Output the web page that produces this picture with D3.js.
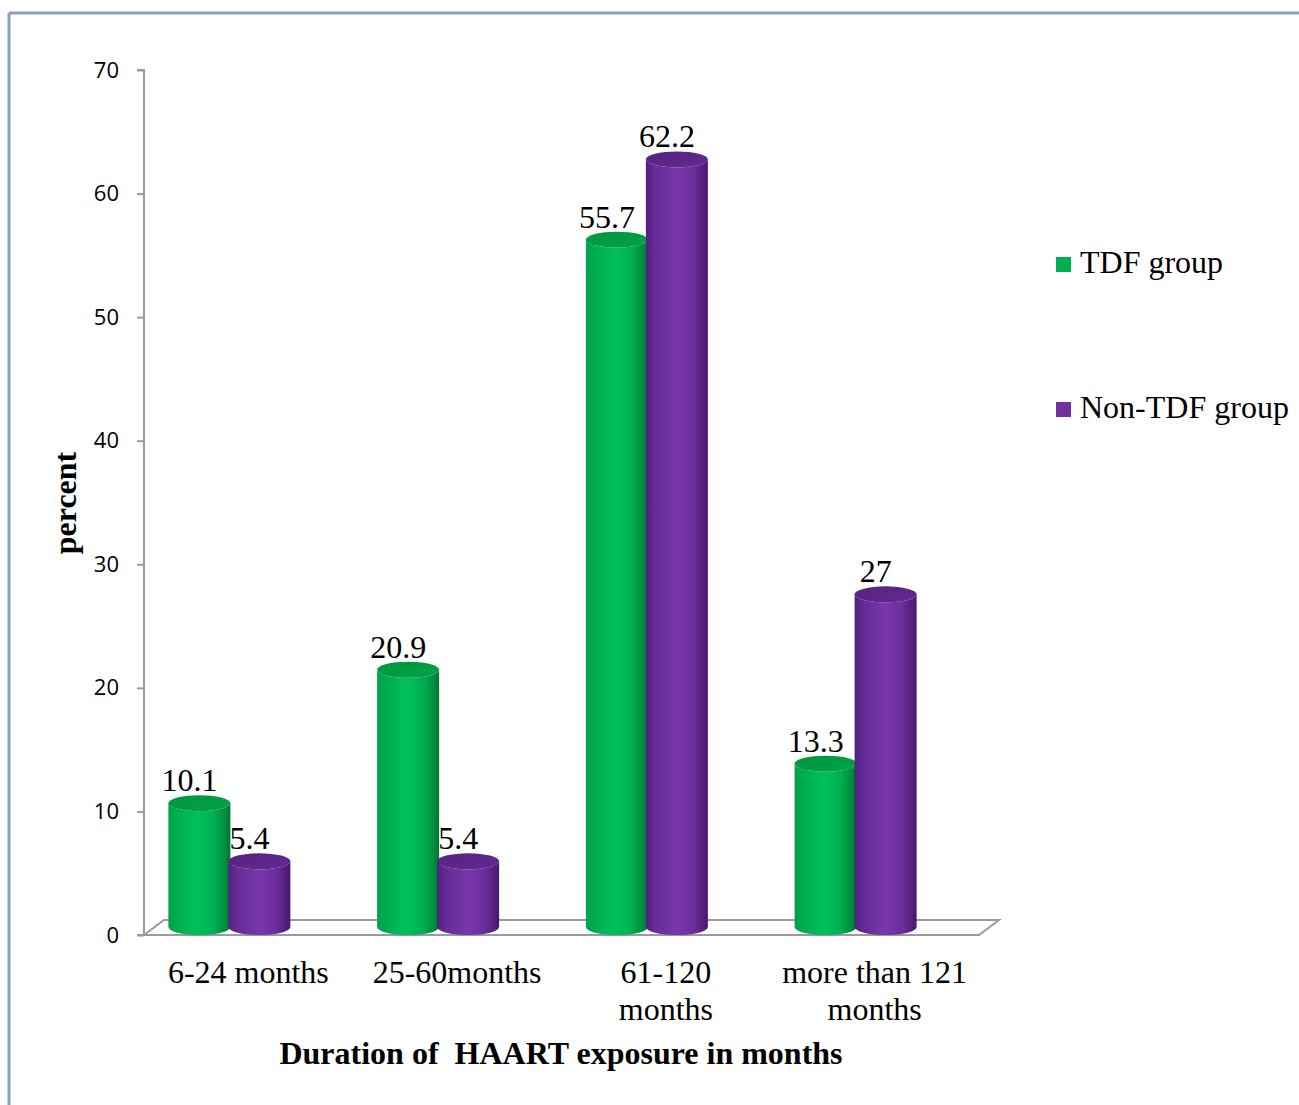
<!DOCTYPE html>
<html>
<head>
<meta charset="utf-8">
<script src="https://cdn.jsdelivr.net/npm/d3@7"></script>
<style>
  html, body { margin: 0; padding: 0; background: #ffffff; }
  svg { display: block; }
</style>
</head>
<body>
<svg id="chart" width="1299" height="1105"></svg>
<script>
// Duration of HAART exposure, percent of patients per group
const categories = [["6-24 months"], ["25-60months"], ["61-120", "months"], ["more than 121", "months"]];
const categoryKeys = ["6-24", "25-60", "61-120", "121+"];
const seriesNames = ["TDF group", "Non-TDF group"];
const tdfValues = [10.1, 20.9, 55.7, 13.3];
const nonTdfValues = [5.4, 5.4, 62.2, 27];
const yTicks = [0, 10, 20, 30, 40, 50, 60, 70];

const svg = d3.select("#chart");
const serif = "'Liberation Serif', 'Times New Roman', serif";
const sans = "'Open Sans', 'Liberation Sans', sans-serif";
const serifSize = 32;

// frame
svg.append("line").attr("x1", 9).attr("y1", 13).attr("x2", 1299).attr("y2", 13)
  .attr("stroke", "#8e9fb6").attr("stroke-width", 3);
svg.append("line").attr("x1", 9).attr("y1", 13).attr("x2", 9).attr("y2", 1105)
  .attr("stroke", "#8e9fb6").attr("stroke-width", 3);

const y = d3.scaleLinear().domain([0, 70]).range([935, 70]);
const x = d3.scaleBand().domain(categoryKeys).range([144, 979]).padding(0);
const xs = d3.scaleBand().domain(seriesNames).range([-79, 41]).padding(0);

const depth = { dx: 20, dy: -15 };
const gridColor = "#9a9a9a";

// floor parallelogram
const x0 = x.range()[0], x1 = x.range()[1], yb = y(0);
svg.append("path")
  .attr("d", `M${x0},${yb} L${x1},${yb} L${x1 + depth.dx},${yb + depth.dy} L${x0 + depth.dx},${yb + depth.dy} Z`)
  .attr("fill", "none").attr("stroke", gridColor).attr("stroke-width", 2);

// value axis
const yAxis = d3.axisLeft(y).tickValues(yTicks).tickSize(7).tickPadding(18);
const gy = svg.append("g").attr("transform", `translate(${x0},0)`).call(yAxis);
gy.select(".domain").attr("stroke", gridColor).attr("stroke-width", 2)
  .attr("d", `M-7,${y(70)}H0V${y(0)}H-7`);
gy.selectAll(".tick line").attr("stroke", gridColor).attr("stroke-width", 2);
gy.selectAll(".tick text").attr("font-family", sans).attr("font-size", 22).attr("fill", "#000");

// gradients for cylinder shading
const defs = svg.append("defs");
const palettes = {
  "TDF group": {
    side: [["0%", "#00a149"], ["12%", "#00ab4e"], ["45%", "#00c05a"], ["72%", "#00b251"], ["92%", "#008c3f"], ["100%", "#007433"]],
    top: [["0%", "#00963f"], ["50%", "#009b43"], ["100%", "#00a54a"]]
  },
  "Non-TDF group": {
    side: [["0%", "#4e1f7e"], ["14%", "#652b95"], ["50%", "#7a36aa"], ["76%", "#6c2e9c"], ["93%", "#521f7c"], ["100%", "#451a6a"]],
    top: [["0%", "#56237f"], ["50%", "#5c2687"], ["100%", "#632a91"]]
  }
};
seriesNames.forEach((s, i) => {
  const gs = defs.append("linearGradient").attr("id", `side${i}`)
    .attr("x1", "0%").attr("x2", "100%").attr("y1", "0%").attr("y2", "0%");
  palettes[s].side.forEach(([o, c]) => gs.append("stop").attr("offset", o).attr("stop-color", c));
  const gt = defs.append("linearGradient").attr("id", `top${i}`)
    .attr("x1", "0%").attr("x2", "100%").attr("y1", "0%").attr("y2", "100%");
  palettes[s].top.forEach(([o, c]) => gt.append("stop").attr("offset", o).attr("stop-color", c));
});

// cylinders
const rx = 31, ry = 8, baseLift = 8, topLift = 7;
const bars = [];
categoryKeys.forEach((k, ci) => {
  [tdfValues, nonTdfValues].forEach((vals, si) => {
    bars.push({ key: k, series: seriesNames[si], si, value: vals[ci] });
  });
});
const barX = d => x(d.key) + x.bandwidth() / 2 + xs(d.series) + xs.bandwidth() / 2;

const gBars = svg.append("g");
const bar = gBars.selectAll("g.bar").data(bars).join("g").attr("class", "bar");
bar.append("path")
  .attr("d", d => {
    const cx = barX(d);
    const yt = y(d.value) - topLift, yB = y(0) - baseLift;
    return `M${cx - rx},${yt} L${cx - rx},${yB} A${rx},${ry} 0 0 0 ${cx + rx},${yB} L${cx + rx},${yt} A${rx},${ry} 0 0 1 ${cx - rx},${yt} Z`;
  })
  .attr("fill", d => `url(#side${d.si})`);
bar.append("ellipse")
  .attr("cx", barX)
  .attr("cy", d => y(d.value) - topLift)
  .attr("rx", rx).attr("ry", ry)
  .attr("fill", d => `url(#top${d.si})`);

// value labels
svg.append("g").selectAll("text").data(bars).join("text")
  .attr("x", d => barX(d) - 10)
  .attr("y", d => y(d.value) - 19)
  .attr("text-anchor", "middle")
  .attr("font-family", serif).attr("font-size", serifSize).attr("fill", "#000")
  .text(d => d.value);

// category labels
const gx = svg.append("g");
categoryKeys.forEach((k, ci) => {
  const t = gx.append("text")
    .attr("x", x(k) + x.bandwidth() / 2)
    .attr("y", 983)
    .attr("text-anchor", "middle")
    .attr("font-family", serif).attr("font-size", serifSize).attr("fill", "#000");
  categories[ci].forEach((line, li) => {
    t.append("tspan").attr("x", x(k) + x.bandwidth() / 2).attr("dy", li === 0 ? 0 : 37).text(line);
  });
});

// axis titles
svg.append("text")
  .attr("x", 561).attr("y", 1064)
  .attr("text-anchor", "middle")
  .attr("font-family", serif).attr("font-size", serifSize).attr("font-weight", "bold")
  .attr("fill", "#000").attr("xml:space", "preserve")
  .text("Duration of  HAART exposure in months");

svg.append("text")
  .attr("transform", "translate(76,503) rotate(-90)")
  .attr("text-anchor", "middle")
  .attr("font-family", serif).attr("font-size", serifSize).attr("font-weight", "bold")
  .attr("fill", "#000")
  .text("percent");

// legend
const legendColors = ["#00b050", "#7030a0"];
const legendY = [257, 402];
const lg = svg.append("g");
seriesNames.forEach((s, i) => {
  lg.append("rect").attr("x", 1056).attr("y", legendY[i]).attr("width", 15).attr("height", 15)
    .attr("fill", legendColors[i]);
  lg.append("text").attr("x", 1080).attr("y", legendY[i] + 16)
    .attr("font-family", serif).attr("font-size", serifSize).attr("fill", "#000")
    .text(s);
});
</script>
</body>
</html>
